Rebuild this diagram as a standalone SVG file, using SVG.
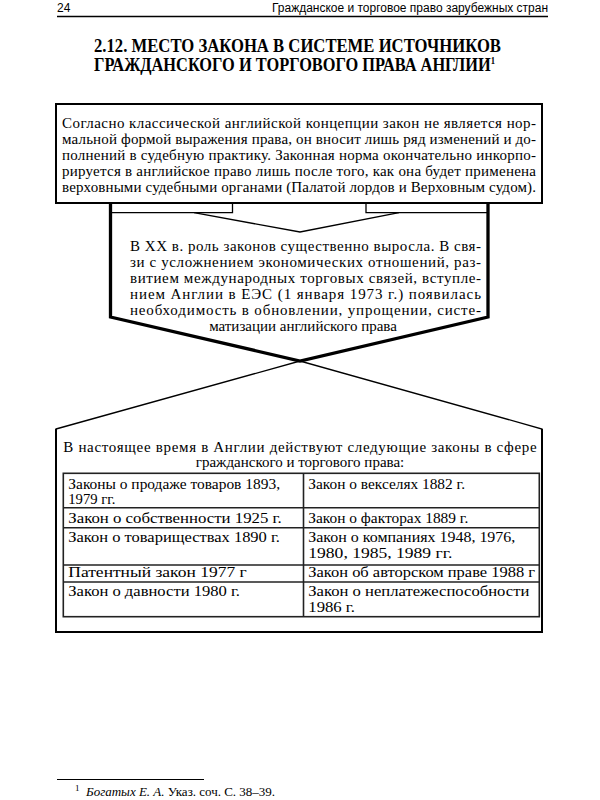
<svg xmlns="http://www.w3.org/2000/svg" width="600" height="800" viewBox="0 0 600 800">
<style>
.hdr{font-family:"Liberation Sans",Arial,sans-serif;font-size:12px;fill:#000}
.ttl{font-family:"Liberation Serif","Times New Roman",serif;font-size:19px;font-weight:bold;fill:#000}
.b{font-family:"Liberation Serif","Times New Roman",serif;font-size:15px;fill:#000}
.t{font-family:"Liberation Serif","Times New Roman",serif;font-size:14.5px;fill:#000}
.fn{font-family:"Liberation Serif","Times New Roman",serif;font-size:13px;fill:#000}
.thin{fill:none;stroke:#000;stroke-width:1.3}
.thick{fill:none;stroke:#000;stroke-width:3.3;stroke-linejoin:miter}
.box{fill:#fff;stroke:#000;stroke-width:2}
.grid{fill:none;stroke:#222;stroke-width:1.6}
</style>
<rect width="600" height="800" fill="#fff"/>
<g id="header">
<text class="hdr" x="57" y="12">24</text>
<text class="hdr" x="548" y="12" text-anchor="end" textLength="276" lengthAdjust="spacingAndGlyphs">Гражданское и торговое право зарубежных стран</text>
<line x1="57" y1="16.5" x2="548" y2="16.5" stroke="#000" stroke-width="1.5"/>
</g>
<g id="title">
<text class="ttl" x="94" y="51.5" textLength="407" lengthAdjust="spacingAndGlyphs">2.12. МЕСТО ЗАКОНА В СИСТЕМЕ ИСТОЧНИКОВ</text>
<text class="ttl" x="94" y="70.5" textLength="401" lengthAdjust="spacingAndGlyphs">ГРАЖДАНСКОГО И ТОРГОВОГО ПРАВА АНГЛИИ<tspan dy="-7" style="font-size:10px">1</tspan></text>
</g>
<g id="connectors">
<polygon points="56,429 300,361 542,429 542,632 56,632" fill="#fff" stroke="#000" stroke-width="1.3"/>
<polyline class="box" points="56,429 56,632 542,632 542,429" style="fill:none"/>
<polyline class="thick" points="110.5,203 110.5,317 300,361 488,317 488,203"/>
<polyline class="thin" points="110.5,212.7 232.5,212.7 232.5,203"/>
<polyline class="thin" points="366,203 366,212.7 488,212.7"/>
<polyline class="thin" points="194,212.7 300,232 399,212.7"/>
</g>
<g id="node-top">
<rect class="box" x="56" y="104" width="486" height="99"/>
<text class="b" x="62" y="127.5" textLength="474" lengthAdjust="spacing">Согласно классической английской концепции закон не является нор-</text>
<text class="b" x="62" y="143.5" textLength="474" lengthAdjust="spacing">мальной формой выражения права, он вносит лишь ряд изменений и до-</text>
<text class="b" x="62" y="159.5" textLength="474" lengthAdjust="spacing">полнений в судебную практику. Законная норма окончательно инкорпо-</text>
<text class="b" x="62" y="175.5" textLength="474" lengthAdjust="spacing">рируется в английское право лишь после того, как она будет применена</text>
<text class="b" x="62" y="191.5" textLength="474" lengthAdjust="spacing">верховными судебными органами (Палатой лордов и Верховным судом).</text>
</g>
<g id="node-middle">
<text class="b" x="130" y="250.5" textLength="351" lengthAdjust="spacing">В XX в. роль законов существенно выросла. В свя-</text>
<text class="b" x="130" y="266.5" textLength="351" lengthAdjust="spacing">зи с усложнением экономических отношений, раз-</text>
<text class="b" x="130" y="282.5" textLength="351" lengthAdjust="spacing">витием международных торговых связей, вступле-</text>
<text class="b" x="130" y="298.5" textLength="351" lengthAdjust="spacing">нием Англии в ЕЭС (1 января 1973 г.) появилась</text>
<text class="b" x="130" y="314.5" textLength="351" lengthAdjust="spacing">необходимость в обновлении, упрощении, систе-</text>
<text class="b" x="303" y="330.5" text-anchor="middle">матизации английского права</text>
</g>
<g id="node-bottom">
<text class="b" x="63.3" y="451.7" textLength="473.4" lengthAdjust="spacing">В настоящее время в Англии действуют следующие законы в сфере</text>
<text class="b" x="300" y="467" text-anchor="middle">гражданского и торгового права:</text>
<g id="table">
<rect class="grid" x="63.3" y="473.3" width="476" height="143.4"/>
<line class="grid" x1="303.5" y1="473.3" x2="303.5" y2="616.7"/>
<line class="grid" x1="63.3" y1="507.7" x2="539.3" y2="507.7"/>
<line class="grid" x1="63.3" y1="527.7" x2="539.3" y2="527.7"/>
<line class="grid" x1="63.3" y1="565" x2="539.3" y2="565"/>
<line class="grid" x1="63.3" y1="582" x2="539.3" y2="582"/>
<text class="t" x="68.3" y="488.5" textLength="211.7" lengthAdjust="spacingAndGlyphs">Законы о продаже товаров 1893,</text>
<text class="t" x="68.3" y="503.5" textLength="47" lengthAdjust="spacingAndGlyphs">1979 гг.</text>
<text class="t" x="308.3" y="488.5" textLength="156.7" lengthAdjust="spacingAndGlyphs">Закон о векселях 1882 г.</text>
<text class="t" x="68.3" y="523.3" textLength="213.4" lengthAdjust="spacingAndGlyphs">Закон о собственности 1925 г.</text>
<text class="t" x="308.3" y="523.3" textLength="160" lengthAdjust="spacingAndGlyphs">Закон о факторах 1889 г.</text>
<text class="t" x="68.3" y="541.5" textLength="211.7" lengthAdjust="spacingAndGlyphs">Закон о товариществах 1890 г.</text>
<text class="t" x="308.3" y="541.5" textLength="207" lengthAdjust="spacingAndGlyphs">Закон о компаниях 1948, 1976,</text>
<text class="t" x="308.3" y="557.5" textLength="144" lengthAdjust="spacingAndGlyphs">1980, 1985, 1989 гг.</text>
<text class="t" x="68.3" y="577" textLength="178.4" lengthAdjust="spacingAndGlyphs">Патентный закон 1977 г</text>
<text class="t" x="308.3" y="577" textLength="226.7" lengthAdjust="spacingAndGlyphs">Закон об авторском праве 1988 г</text>
<text class="t" x="68.3" y="596" textLength="171.7" lengthAdjust="spacingAndGlyphs">Закон о давности 1980 г.</text>
<text class="t" x="308.3" y="596" textLength="221" lengthAdjust="spacingAndGlyphs">Закон о неплатежеспособности</text>
<text class="t" x="308.3" y="611.5" textLength="46.7" lengthAdjust="spacingAndGlyphs">1986 г.</text>
</g>
</g>
<g id="footnote">
<line x1="57" y1="779.5" x2="204" y2="779.5" stroke="#000" stroke-width="1"/>
<text class="fn" x="75" y="791" style="font-size:9px">1</text>
<text class="fn" x="86" y="796" textLength="189" lengthAdjust="spacing"><tspan font-style="italic">Богатых Е. А.</tspan> Указ. соч. С. 38–39.</text>
</g>
</svg>
